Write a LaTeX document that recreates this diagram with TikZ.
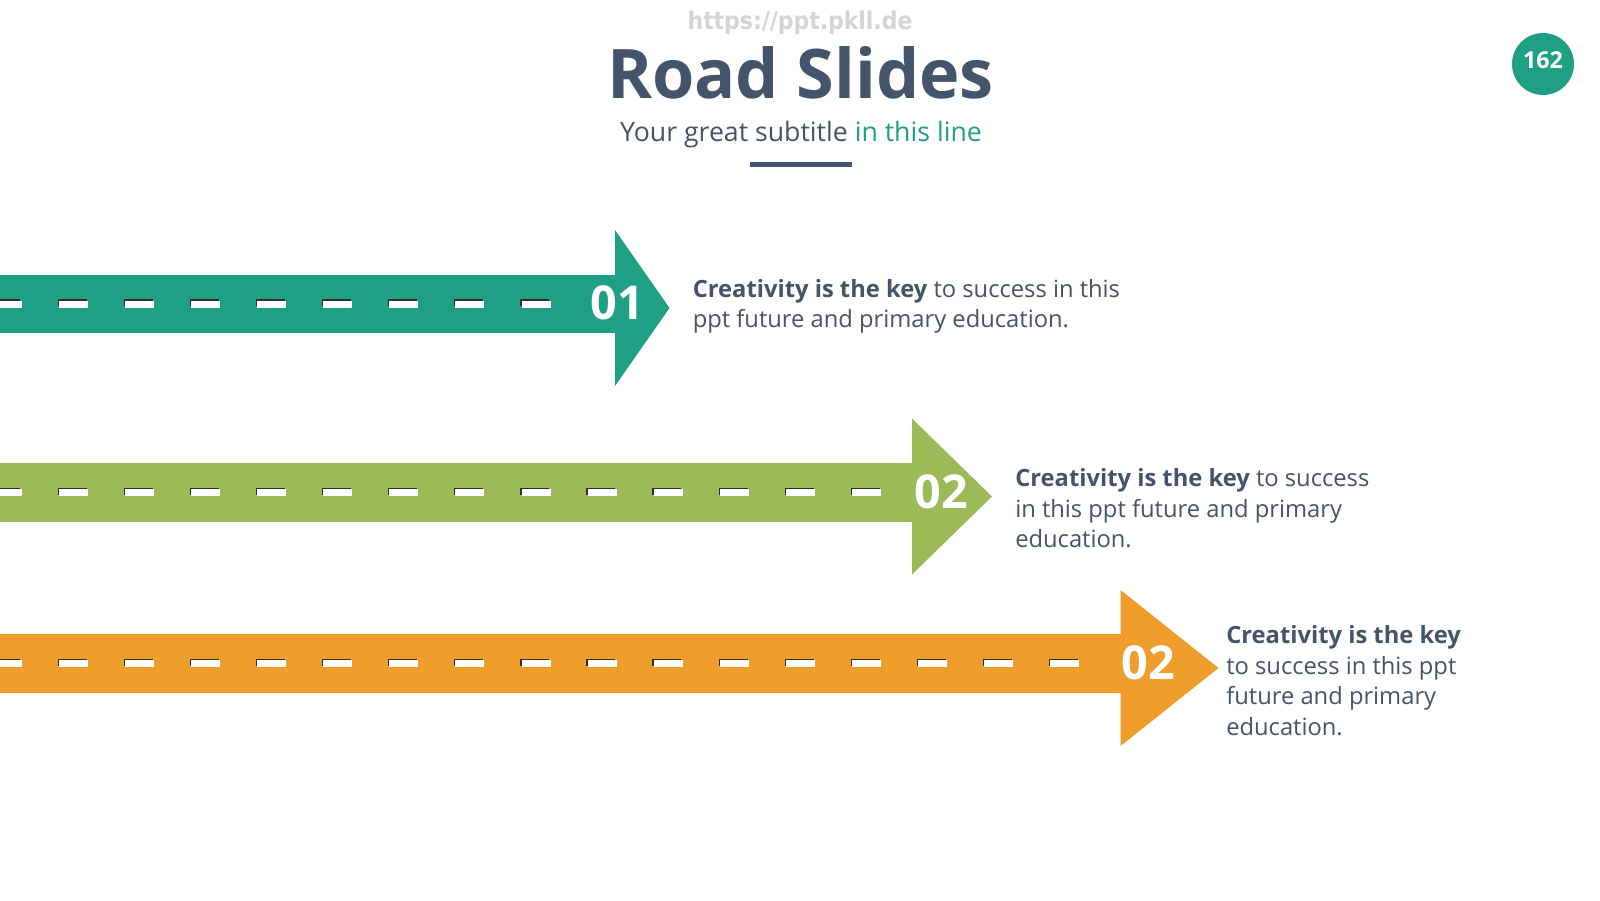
\documentclass[tikz,border=0pt]{standalone}
\usepackage{fontspec}
\setmainfont{Open Sans}
\newfontfamily\urlfont{DejaVu Sans Condensed}
\definecolor{tealc}{HTML}{1FA084}
\definecolor{greenc}{HTML}{9BBB59}
\definecolor{orangec}{HTML}{EF9D2B}
\definecolor{slate}{HTML}{44546A}
\definecolor{urlgray}{HTML}{D4D4D4}
\definecolor{dashdark}{HTML}{2E2E2E}
\tikzset{
  body/.style={anchor=base west, inner sep=0pt, text=slate, font=\fontsize{17.8}{20}\selectfont},
  num/.style={inner sep=0pt, text=white, font=\bfseries\fontsize{35}{40}\selectfont},
}
% #1 colour, #2 body top, #3 body bottom, #4 head base x, #5 tip x, #6 head centre y, #7 last dash index
\newcommand{\roadarrow}[7]{%
  \fill[#1] (-2,#2) rectangle (#4+1,#3);
  \fill[#1] (#4,#6-78) -- (#5,#6) -- (#4,#6+78) -- cycle;
  \pgfmathsetmacro\dashy{(#2+#3)/2}
  \foreach \k in {-1,...,#7}{%
    \fill[dashdark] (57.5+66.1*\k,\dashy-4.3) rectangle ++(29,7);
    \fill[white] (58.8+66.1*\k,\dashy-3) rectangle ++(29,7);
  }%
}
\begin{document}
\begin{tikzpicture}[x=0.75pt,y=-0.75pt]
\useasboundingbox (0,0) rectangle (1600,900);
\fill[white] (0,0) rectangle (1600,900);

% header
\node[inner sep=0pt, anchor=base, text=urlgray, font=\urlfont\bfseries\fontsize{18.3}{20}\selectfont] (url) at (800,29) {https://ppt.pkll.de};
\node[inner sep=0pt, anchor=base, text=slate, font=\bfseries\fontsize{51.3}{60}\selectfont] (title) at (800.5,98.3) {Road Slides};
\node[inner sep=0pt, anchor=base, text=slate, font=\fontsize{20}{22}\selectfont] (subtitle) at (801,141.7) {Your great subtitle \textcolor{tealc}{in this line}};
\fill[slate] (750,162) rectangle (852,167);

% badge
\fill[tealc] (1543,64) circle[radius=31];
\node[inner sep=0pt, text=white, font=\bfseries\fontsize{17.5}{20}\selectfont] (badge) at (1543,60) {162};

% road arrows
\roadarrow{tealc}{274.5}{332.7}{615}{669.5}{308}{7}
\roadarrow{greenc}{463.3}{521.5}{912}{992}{496.5}{12}
\roadarrow{orangec}{634}{692.7}{1120.5}{1218.5}{668}{15}

\node[num] (n1) at (617,303) {01};
\node[num] (n2) at (941,492) {02};
\node[num] (n3) at (1148,662.5) {02};

% texts
\node[body] (t1a) at (692.5,297.7) {\textbf{Creativity is the key} to success in this};
\node[body] (t1b) at (692.5,327.7) {ppt future and primary education.};

\node[body] (t2a) at (1015,486.5) {\textbf{Creativity is the key} to success};
\node[body] (t2b) at (1015,517) {in this ppt future and primary};
\node[body] (t2c) at (1015,547.5) {education.};

\node[body] (t3a) at (1226,643.4) {\textbf{Creativity is the key}};
\node[body] (t3b) at (1226,674) {to success in this ppt};
\node[body] (t3c) at (1226,704.7) {future and primary};
\node[body] (t3d) at (1226,735.5) {education.};
\end{tikzpicture}
\end{document}
